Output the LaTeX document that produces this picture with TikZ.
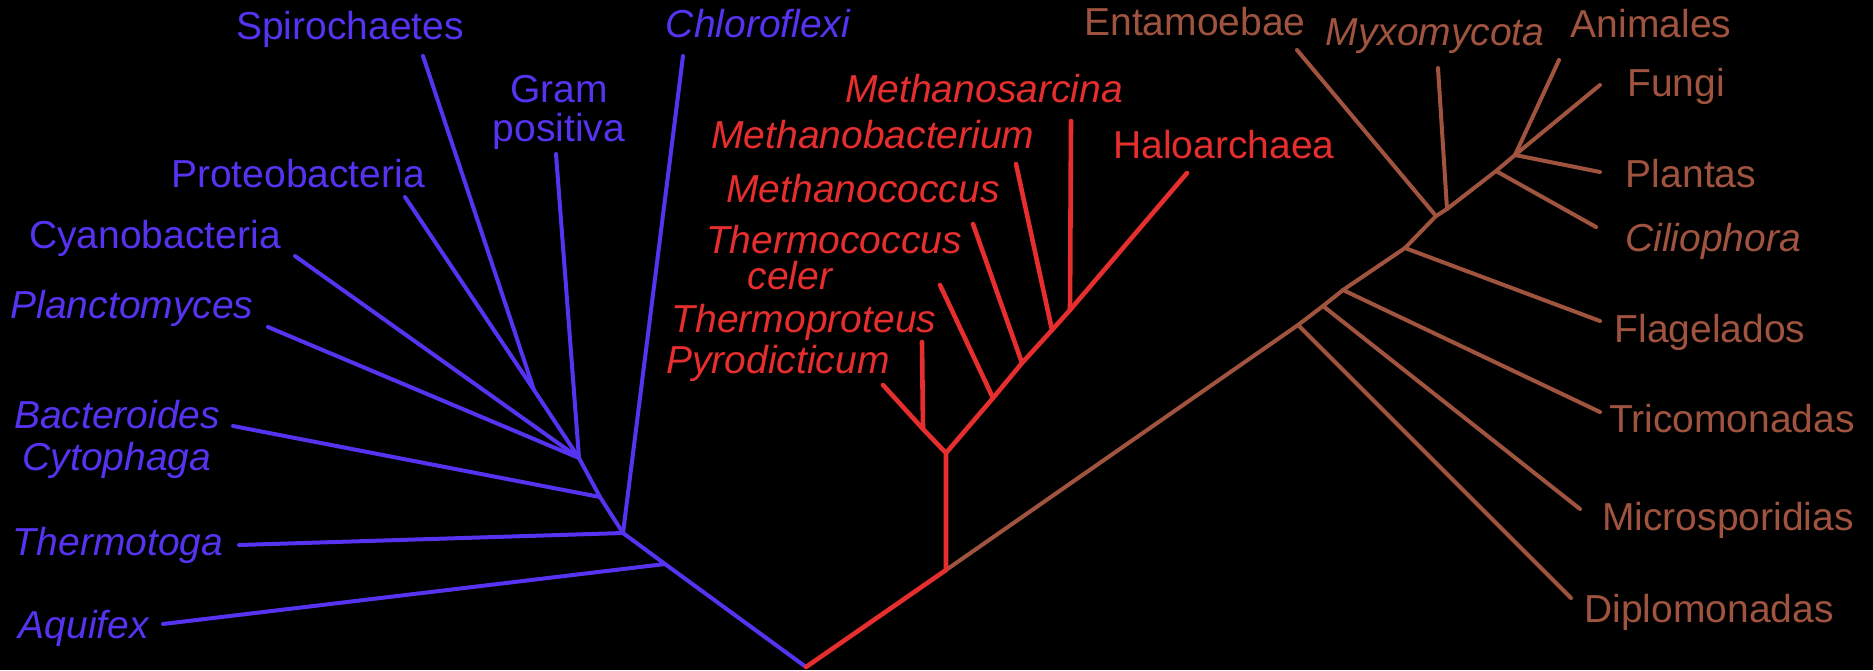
\documentclass[tikz,border=0pt]{standalone}
\usepackage{fontspec}
\setmainfont{Liberation Sans}
\definecolor{bblue}{RGB}{85,51,240}
\definecolor{ared}{RGB}{230,46,46}
\definecolor{ebrown}{RGB}{160,84,64}
\begin{document}
\begin{tikzpicture}[x=0.5pt,y=-0.5pt,
  lbl/.style={anchor=base,inner sep=0pt,font=\fontsize{19.5pt}{22pt}\selectfont},
  itl/.style={anchor=base,inner sep=0pt,font=\fontsize{19.5pt}{22pt}\selectfont\itshape},
  bacline/.style={draw=bblue,line width=2pt,line cap=round,line join=round},
  arcline/.style={draw=ared,line width=2.3pt,line cap=round,line join=round},
  eukline/.style={draw=ebrown,line width=2pt,line cap=round,line join=round}]
\fill[black] (0,0) rectangle (1873,670);
\useasboundingbox (0,0) rectangle (1873,670);

% ---------- coordinates ----------
\coordinate (root) at (806,667);
% bacteria
\coordinate (bA) at (665,564);
\coordinate (bT) at (623,533);
\coordinate (bB) at (600,497);
\coordinate (bC) at (579,458);
\coordinate (bS) at (534,390);
\coordinate (aquifexE) at (163,624);
\coordinate (thermotogaE) at (239,545);
\coordinate (chloroE) at (683,56);
\coordinate (bactE) at (233,426);
\coordinate (gramE) at (556,154);
\coordinate (planctoE) at (268,327);
\coordinate (cyanoE) at (295,256);
\coordinate (proteoE) at (405,197);
\coordinate (spiroE) at (423,56);
% archaea
\coordinate (aE) at (946,570);
\coordinate (aP) at (946,453);
\coordinate (aT) at (923,429);
\coordinate (aJ1) at (993,398);
\coordinate (aJ2) at (1022,363);
\coordinate (aJ3) at (1052,330);
\coordinate (aJ4) at (1070,310);
\coordinate (pyroE) at (883,385);
\coordinate (tproE) at (922,342);
\coordinate (tcocE) at (940,285);
\coordinate (mcocE) at (973,224);
\coordinate (mbacE) at (1016,164);
\coordinate (msarE) at (1071,121);
\coordinate (haloE) at (1187,173);
% eukaryota
\coordinate (eD1) at (1298,325);
\coordinate (eD2) at (1323,306);
\coordinate (eD3) at (1343,290);
\coordinate (eD4) at (1405,248);
\coordinate (eD5) at (1436,216);
\coordinate (eD6) at (1447,209);
\coordinate (eD7) at (1496,171);
\coordinate (eCr) at (1515,155);
\coordinate (diploE) at (1571,598);
\coordinate (microE) at (1580,509);
\coordinate (tricoE) at (1600,412);
\coordinate (flagE) at (1600,321);
\coordinate (entaE) at (1297,50);
\coordinate (myxoE) at (1438,68);
\coordinate (ciliE) at (1596,227);
\coordinate (plantE) at (1600,172);
\coordinate (fungiE) at (1600,85);
\coordinate (animE) at (1559,60);

% ---------- branches ----------
\draw[bacline] (root) -- (bA) -- (bT) -- (bB) -- (bC) -- (bS) -- (proteoE);
\draw[bacline] (bS) -- (spiroE);
\draw[bacline] (bC) -- (gramE);
\draw[bacline] (bC) -- (cyanoE);
\draw[bacline] (bC) -- (planctoE);
\draw[bacline] (bB) -- (bactE);
\draw[bacline] (bT) -- (thermotogaE);
\draw[bacline] (bT) -- (chloroE);
\draw[bacline] (bA) -- (aquifexE);

\draw[eukline] (aE) -- (eD1) -- (eD2) -- (eD3) -- (eD4) -- (eD5) -- (eD6) -- (eD7) -- (eCr);
\draw[eukline] (eD1) -- (diploE);
\draw[eukline] (eD2) -- (microE);
\draw[eukline] (eD3) -- (tricoE);
\draw[eukline] (eD4) -- (flagE);
\draw[eukline] (eD5) -- (entaE);
\draw[eukline] (eD6) -- (myxoE);
\draw[eukline] (eD7) -- (ciliE);
\draw[eukline] (eCr) -- (plantE);
\draw[eukline] (eCr) -- (fungiE);
\draw[eukline] (eCr) -- (animE);

\draw[arcline] (root) -- (aE) -- (aP) -- (aJ1) -- (aJ2) -- (aJ3) -- (aJ4) -- (haloE);
\draw[arcline] (aP) -- (aT) -- (pyroE);
\draw[arcline] (aT) -- (tproE);
\draw[arcline] (aJ1) -- (tcocE);
\draw[arcline] (aJ2) -- (mcocE);
\draw[arcline] (aJ3) -- (mbacE);
\draw[arcline] (aJ4) -- (msarE);

% ---------- labels ----------
\begin{scope}[text=bblue]
\node[lbl] (spiro) at (350,39) {Spirochaetes};
\node[lbl] (gram1) at (559,102) {Gram};
\node[lbl] (gram2) at (559,141) {positiva};
\node[lbl] (proteo) at (298,187) {Proteobacteria};
\node[lbl] (cyano) at (155,248) {Cyanobacteria};
\node[itl] (plancto) at (132,318) {Planctomyces};
\node[itl] (bact1) at (117,428) {Bacteroides};
\node[itl] (bact2) at (117,470) {Cytophaga};
\node[itl] (thermotoga) at (118,555) {Thermotoga};
\node[itl] (aquifex) at (84,638) {Aquifex};
\node[itl] (chloro) at (758,37) {Chloroflexi};
\end{scope}
\begin{scope}[text=ared]
\node[itl] (msar) at (984,102) {Methanosarcina};
\node[itl] (mbac) at (873,148) {Methanobacterium};
\node[lbl] (halo) at (1224,158) {Haloarchaea};
\node[itl] (mcoc) at (863,202) {Methanococcus};
\node[itl] (tcoc1) at (834,253) {Thermococcus};
\node[itl] (tcoc2) at (790,289) {celer};
\node[itl] (tpro) at (804,332) {Thermoproteus};
\node[itl] (pyro) at (778,373) {Pyrodicticum};
\end{scope}
\begin{scope}[text=ebrown]
\node[lbl] (enta) at (1195,35) {Entamoebae};
\node[itl] (myxo) at (1435,45) {Myxomycota};
\node[lbl] (anim) at (1651,37) {Animales};
\node[lbl] (fungi) at (1676,96) {Fungi};
\node[lbl] (plant) at (1691,187) {Plantas};
\node[itl] (cili) at (1713,251) {Ciliophora};
\node[lbl] (flag) at (1710,342) {Flagelados};
\node[lbl] (trico) at (1732,432) {Tricomonadas};
\node[lbl] (micro) at (1728,530) {Microsporidias};
\node[lbl] (diplo) at (1709,622) {Diplomonadas};
\end{scope}
\end{tikzpicture}
\end{document}
